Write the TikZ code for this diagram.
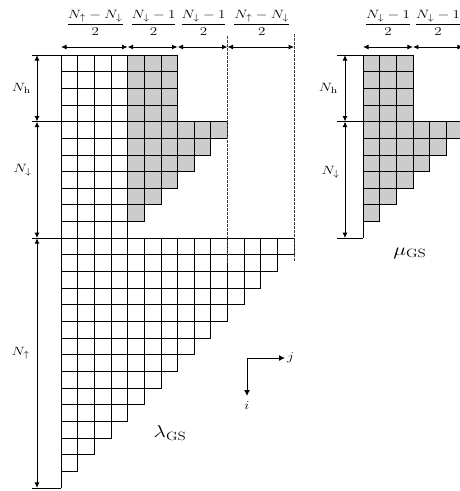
\documentclass[tikz,border=0pt]{standalone}
\usepackage{amsmath}
\usepackage{graphicx}
\usetikzlibrary{arrows.meta}
\newcommand{\hstretch}[1]{\scalebox{1.25}[1]{#1}}
\begin{document}
\begin{tikzpicture}[x=1pt,y=-1pt,
  cell/.style={draw=black,line width=0.8pt},
  greyfill/.style={fill=gray!40},
  dimline/.style={{Latex[length=5.5pt,width=5pt]}-{Latex[length=5.5pt,width=5pt]},line width=1pt},
  oneway/.style={-{Latex[length=6pt,width=6pt]},line width=1pt},
  tickline/.style={line width=0.8pt},
  guide/.style={dash pattern=on 3pt off 1pt,line width=1.2pt,black!75},
  sidelab/.style={font=\fontsize{12.5}{15}\selectfont,anchor=east,inner sep=0pt},
  fraclab/.style={font=\fontsize{13}{15}\selectfont,inner sep=0pt},
  biglab/.style={font=\fontsize{17}{20}\selectfont,inner sep=0pt}]
\useasboundingbox (0,0) rectangle (460,491);
\clip (0,0) rectangle (460,491);
\pgfmathsetmacro\cs{16.65}
% ---------- lambda_GS ----------
\foreach \r/\g in {0/7,1/7,2/7,3/7,4/10,5/9,6/8,7/7,8/6,9/5}{
  \fill[greyfill] ({61+4*\cs},{55+\r*\cs}) rectangle ({61+\g*\cs},{55+(\r+1)*\cs});
}
\foreach \r/\n in {0/7,1/7,2/7,3/7,4/10,5/9,6/8,7/7,8/6,9/5,10/4,
  11/14,12/13,13/12,14/11,15/10,16/9,17/8,18/7,19/6,20/5,21/4,22/3,23/2,24/1}{
  \foreach \k in {1,...,\n}{
    \draw[cell] ({61+(\k-1)*\cs},{55+\r*\cs}) rectangle +(\cs,\cs);
  }
}
\draw[cell] (61,{55+25*\cs}) -- (61,{55+26*\cs});
\draw[guide] ({61+10*\cs},36) -- ({61+10*\cs},263);
\draw[guide] ({61+14*\cs},34) -- ({61+14*\cs},262);
\foreach \r in {0,4,11,26}{
  \draw[tickline] (32,{55+\r*\cs}) -- (61,{55+\r*\cs});
}
\coordinate (L0) at (37,55);
\coordinate (L1) at (37,{55+4*\cs});
\coordinate (L2) at (37,{55+11*\cs});
\coordinate (L3) at (37,{55+26*\cs});
\draw[dimline] (L0) -- (L1);
\draw[dimline] (L1) -- (L2);
\draw[dimline] (L2) -- (L3);
\node[sidelab] (nh) at (31,88) {\hstretch{$N_{\mathrm{h}}$}};
\node[sidelab] (nd) at (32,170) {\hstretch{$N_{\downarrow}$}};
\node[sidelab] (nu) at (30,353) {\hstretch{$N_{\uparrow}$}};
\coordinate (T0) at (61,47);
\coordinate (T1) at ({61+4*\cs},47);
\coordinate (T2) at ({61+7*\cs},47);
\coordinate (T3) at ({61+10*\cs},47);
\coordinate (T4) at ({61+14*\cs},47);
\draw[dimline] (T0) -- (T1);
\draw[dimline] (T1) -- (T2);
\draw[dimline] (T2) -- (T3);
\draw[dimline] (T3) -- (T4);
\node[fraclab] (f1) at ({61+2*\cs+1},23) {\hstretch{$\dfrac{N_{\uparrow}-N_{\downarrow}}{2}$}};
\node[fraclab] (f2) at ({61+5.5*\cs+1},23) {\hstretch{$\dfrac{N_{\downarrow}-1}{2}$}};
\node[fraclab] (f3) at ({61+8.5*\cs+1},23) {\hstretch{$\dfrac{N_{\downarrow}-1}{2}$}};
\node[fraclab] (f4) at ({61+12*\cs+1},23) {\hstretch{$\dfrac{N_{\uparrow}-N_{\downarrow}}{2}$}};
\coordinate (O) at (247,358);
\coordinate (J) at (285,358);
\coordinate (I) at (247,396);
\draw[oneway] (O) -- (J);
\draw[oneway] (O) -- (I);
\node[fraclab,anchor=west] (jl) at (287,358) {\hstretch{$j$}};
\node[fraclab] (il) at (247,406) {\hstretch{$i$}};
\node[biglab] (lam) at (170,433) {\hstretch{$\lambda_{\mathrm{GS}}$}};
% ---------- mu_GS ----------
\foreach \r/\g in {0/3,1/3,2/3,3/3,4/6,5/5,6/4,7/3,8/2,9/1}{
  \fill[greyfill] (363,{55+\r*\cs}) rectangle ({363+\g*\cs},{55+(\r+1)*\cs});
  \foreach \k in {1,...,\g}{
    \draw[cell] ({363+(\k-1)*\cs},{55+\r*\cs}) rectangle +(\cs,\cs);
  }
}
\draw[cell] (363,{55+10*\cs}) -- (363,{55+11*\cs});
\foreach \r in {0,4,11}{
  \draw[tickline] (337,{55+\r*\cs}) -- (363,{55+\r*\cs});
}
\coordinate (M0) at (345,55);
\coordinate (M1) at (345,{55+4*\cs});
\coordinate (M2) at (345,{55+11*\cs});
\draw[dimline] (M0) -- (M1);
\draw[dimline] (M1) -- (M2);
\node[sidelab] (mnh) at (338,88) {\hstretch{$N_{\mathrm{h}}$}};
\node[sidelab] (mnd) at (340,172) {\hstretch{$N_{\downarrow}$}};
\coordinate (U0) at (363,47);
\coordinate (U1) at ({363+3*\cs},47);
\coordinate (U2) at ({363+6*\cs},47);
\draw[dimline] (U0) -- (U1);
\draw[dimline] (U1) -- (U2);
\node[fraclab] (g1) at ({363+1.5*\cs},23) {\hstretch{$\dfrac{N_{\downarrow}-1}{2}$}};
\node[fraclab] (g2) at ({363+4.5*\cs},23) {\hstretch{$\dfrac{N_{\downarrow}-1}{2}$}};
\node[biglab] (mu) at (410,253) {\hstretch{$\mu_{\mathrm{GS}}$}};
\end{tikzpicture}
\end{document}
